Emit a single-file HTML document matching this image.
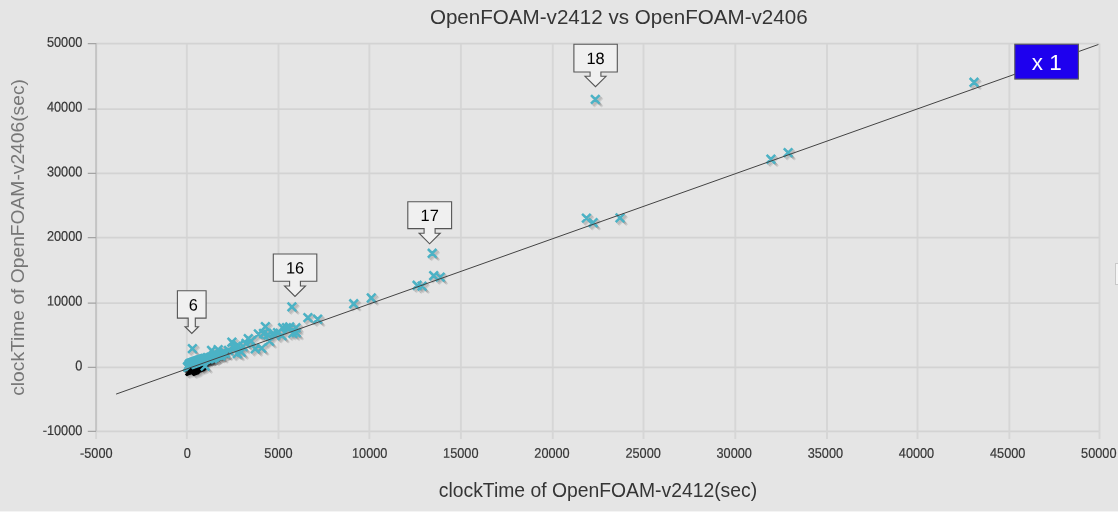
<!DOCTYPE html>
<html><head><meta charset="utf-8"><title>OpenFOAM-v2412 vs OpenFOAM-v2406</title>
<style>
html,body{margin:0;padding:0;}
body{width:1118px;height:512px;overflow:hidden;background:#e5e5e5;}
svg{display:block;position:absolute;left:0;top:0;font-family:"Liberation Sans",Arial,sans-serif;}
</style></head><body>

<svg width="1118" height="512" viewBox="0 0 1118 512">
<rect x="0" y="0" width="1118" height="512" fill="#e5e5e5"/>
<rect x="0" y="511" width="1118" height="1" fill="#f4f4f4"/>
<path d="M186.85 43.60V431.30M278.50 43.60V431.30M369.40 43.60V431.30M460.90 43.60V431.30M552.75 43.60V431.30M643.50 43.60V431.30M735.30 43.60V431.30M827.00 43.60V431.30M917.50 43.60V431.30M1009.40 43.60V431.30M1099.50 43.60V431.30" stroke="#d6d6d6" stroke-width="1.9" fill="none"/>
<path d="M96.10 43.60H1099.50M96.10 109.20H1099.50M96.10 173.45H1099.50M96.10 237.60H1099.50M96.10 303.10H1099.50M96.10 367.40H1099.50M96.10 431.30H1099.50" stroke="#d3d3d3" stroke-width="1.7" fill="none"/>
<path d="M96.10 43.00V431.90" stroke="#c4c4c4" stroke-width="2" fill="none"/>
<path d="M96.10 431.30V439M186.85 431.30V439M278.50 431.30V439M369.40 431.30V439M460.90 431.30V439M552.75 431.30V439M643.50 431.30V439M735.30 431.30V439M827.00 431.30V439M917.50 431.30V439M1009.40 431.30V439M1099.50 431.30V439" stroke="#d6d6d6" stroke-width="1.9" fill="none"/>
<path d="M87.8 43.60H96.10M87.8 109.20H96.10M87.8 173.45H96.10M87.8 237.60H96.10M87.8 303.10H96.10M87.8 367.40H96.10M87.8 431.30H96.10" stroke="#a4a4a4" stroke-width="1.3" fill="none"/>
<path d="M184.1 363.6l8.6 8.6m0 -8.6l-8.6 8.6M185.1 364.6l8.6 8.6m0 -8.6l-8.6 8.6M186.0 365.5l8.6 8.6m0 -8.6l-8.6 8.6" stroke="#000" stroke-opacity="0.13" stroke-width="2.4" fill="none"/>
<path d="M184.3 363.6l8.6 8.6m0 -8.6l-8.6 8.6M185.3 364.6l8.6 8.6m0 -8.6l-8.6 8.6M186.2 365.5l8.6 8.6m0 -8.6l-8.6 8.6" stroke="#000" stroke-opacity="0.13" stroke-width="2.4" fill="none"/>
<path d="M184.5 363.4l8.6 8.6m0 -8.6l-8.6 8.6M185.4 364.3l8.6 8.6m0 -8.6l-8.6 8.6M186.4 365.3l8.6 8.6m0 -8.6l-8.6 8.6" stroke="#000" stroke-opacity="0.13" stroke-width="2.4" fill="none"/>
<path d="M184.6 363.5l8.6 8.6m0 -8.6l-8.6 8.6M185.6 364.5l8.6 8.6m0 -8.6l-8.6 8.6M186.5 365.4l8.6 8.6m0 -8.6l-8.6 8.6" stroke="#000" stroke-opacity="0.13" stroke-width="2.4" fill="none"/>
<path d="M184.8 363.3l8.6 8.6m0 -8.6l-8.6 8.6M185.7 364.2l8.6 8.6m0 -8.6l-8.6 8.6M186.7 365.2l8.6 8.6m0 -8.6l-8.6 8.6" stroke="#000" stroke-opacity="0.13" stroke-width="2.4" fill="none"/>
<path d="M184.9 363.3l8.6 8.6m0 -8.6l-8.6 8.6M185.9 364.3l8.6 8.6m0 -8.6l-8.6 8.6M186.8 365.2l8.6 8.6m0 -8.6l-8.6 8.6" stroke="#000" stroke-opacity="0.13" stroke-width="2.4" fill="none"/>
<path d="M185.1 363.4l8.6 8.6m0 -8.6l-8.6 8.6M186.1 364.3l8.6 8.6m0 -8.6l-8.6 8.6M187.0 365.3l8.6 8.6m0 -8.6l-8.6 8.6" stroke="#000" stroke-opacity="0.13" stroke-width="2.4" fill="none"/>
<path d="M185.3 363.1l8.6 8.6m0 -8.6l-8.6 8.6M186.2 364.1l8.6 8.6m0 -8.6l-8.6 8.6M187.2 365.0l8.6 8.6m0 -8.6l-8.6 8.6" stroke="#000" stroke-opacity="0.13" stroke-width="2.4" fill="none"/>
<path d="M185.4 363.3l8.6 8.6m0 -8.6l-8.6 8.6M186.4 364.2l8.6 8.6m0 -8.6l-8.6 8.6M187.3 365.2l8.6 8.6m0 -8.6l-8.6 8.6" stroke="#000" stroke-opacity="0.13" stroke-width="2.4" fill="none"/>
<path d="M185.6 363.1l8.6 8.6m0 -8.6l-8.6 8.6M186.5 364.0l8.6 8.6m0 -8.6l-8.6 8.6M187.5 365.0l8.6 8.6m0 -8.6l-8.6 8.6" stroke="#000" stroke-opacity="0.13" stroke-width="2.4" fill="none"/>
<path d="M185.7 361.0l8.6 8.6m0 -8.6l-8.6 8.6M186.7 361.9l8.6 8.6m0 -8.6l-8.6 8.6M187.6 362.9l8.6 8.6m0 -8.6l-8.6 8.6" stroke="#000" stroke-opacity="0.13" stroke-width="2.4" fill="none"/>
<path d="M185.9 360.9l8.6 8.6m0 -8.6l-8.6 8.6M186.9 361.8l8.6 8.6m0 -8.6l-8.6 8.6M187.8 362.8l8.6 8.6m0 -8.6l-8.6 8.6" stroke="#000" stroke-opacity="0.13" stroke-width="2.4" fill="none"/>
<path d="M186.1 360.8l8.6 8.6m0 -8.6l-8.6 8.6M187.0 361.7l8.6 8.6m0 -8.6l-8.6 8.6M188.0 362.7l8.6 8.6m0 -8.6l-8.6 8.6" stroke="#000" stroke-opacity="0.13" stroke-width="2.4" fill="none"/>
<path d="M186.2 360.6l8.6 8.6m0 -8.6l-8.6 8.6M187.2 361.6l8.6 8.6m0 -8.6l-8.6 8.6M188.1 362.5l8.6 8.6m0 -8.6l-8.6 8.6" stroke="#000" stroke-opacity="0.13" stroke-width="2.4" fill="none"/>
<path d="M186.4 360.7l8.6 8.6m0 -8.6l-8.6 8.6M187.3 361.7l8.6 8.6m0 -8.6l-8.6 8.6M188.3 362.6l8.6 8.6m0 -8.6l-8.6 8.6" stroke="#000" stroke-opacity="0.13" stroke-width="2.4" fill="none"/>
<path d="M186.5 360.6l8.6 8.6m0 -8.6l-8.6 8.6M187.5 361.6l8.6 8.6m0 -8.6l-8.6 8.6M188.4 362.5l8.6 8.6m0 -8.6l-8.6 8.6" stroke="#000" stroke-opacity="0.13" stroke-width="2.4" fill="none"/>
<path d="M186.7 360.5l8.6 8.6m0 -8.6l-8.6 8.6M187.7 361.5l8.6 8.6m0 -8.6l-8.6 8.6M188.6 362.4l8.6 8.6m0 -8.6l-8.6 8.6" stroke="#000" stroke-opacity="0.13" stroke-width="2.4" fill="none"/>
<path d="M186.9 360.4l8.6 8.6m0 -8.6l-8.6 8.6M187.8 361.3l8.6 8.6m0 -8.6l-8.6 8.6M188.8 362.3l8.6 8.6m0 -8.6l-8.6 8.6" stroke="#000" stroke-opacity="0.13" stroke-width="2.4" fill="none"/>
<path d="M187.0 360.4l8.6 8.6m0 -8.6l-8.6 8.6M188.0 361.3l8.6 8.6m0 -8.6l-8.6 8.6M188.9 362.3l8.6 8.6m0 -8.6l-8.6 8.6" stroke="#000" stroke-opacity="0.13" stroke-width="2.4" fill="none"/>
<path d="M187.2 360.4l8.6 8.6m0 -8.6l-8.6 8.6M188.1 361.3l8.6 8.6m0 -8.6l-8.6 8.6M189.1 362.3l8.6 8.6m0 -8.6l-8.6 8.6" stroke="#000" stroke-opacity="0.13" stroke-width="2.4" fill="none"/>
<path d="M187.3 360.2l8.6 8.6m0 -8.6l-8.6 8.6M188.3 361.2l8.6 8.6m0 -8.6l-8.6 8.6M189.2 362.1l8.6 8.6m0 -8.6l-8.6 8.6" stroke="#000" stroke-opacity="0.13" stroke-width="2.4" fill="none"/>
<path d="M187.5 360.3l8.6 8.6m0 -8.6l-8.6 8.6M188.5 361.3l8.6 8.6m0 -8.6l-8.6 8.6M189.4 362.2l8.6 8.6m0 -8.6l-8.6 8.6" stroke="#000" stroke-opacity="0.13" stroke-width="2.4" fill="none"/>
<path d="M187.7 360.1l8.6 8.6m0 -8.6l-8.6 8.6M188.6 361.1l8.6 8.6m0 -8.6l-8.6 8.6M189.6 362.0l8.6 8.6m0 -8.6l-8.6 8.6" stroke="#000" stroke-opacity="0.13" stroke-width="2.4" fill="none"/>
<path d="M187.8 360.2l8.6 8.6m0 -8.6l-8.6 8.6M188.8 361.1l8.6 8.6m0 -8.6l-8.6 8.6M189.7 362.1l8.6 8.6m0 -8.6l-8.6 8.6" stroke="#000" stroke-opacity="0.13" stroke-width="2.4" fill="none"/>
<path d="M188.0 360.1l8.6 8.6m0 -8.6l-8.6 8.6M188.9 361.1l8.6 8.6m0 -8.6l-8.6 8.6M189.9 362.0l8.6 8.6m0 -8.6l-8.6 8.6" stroke="#000" stroke-opacity="0.13" stroke-width="2.4" fill="none"/>
<path d="M188.1 360.1l8.6 8.6m0 -8.6l-8.6 8.6M189.1 361.0l8.6 8.6m0 -8.6l-8.6 8.6M190.0 362.0l8.6 8.6m0 -8.6l-8.6 8.6" stroke="#000" stroke-opacity="0.13" stroke-width="2.4" fill="none"/>
<path d="M188.3 360.0l8.6 8.6m0 -8.6l-8.6 8.6M189.3 360.9l8.6 8.6m0 -8.6l-8.6 8.6M190.2 361.9l8.6 8.6m0 -8.6l-8.6 8.6" stroke="#000" stroke-opacity="0.13" stroke-width="2.4" fill="none"/>
<path d="M188.5 359.8l8.6 8.6m0 -8.6l-8.6 8.6M189.4 360.8l8.6 8.6m0 -8.6l-8.6 8.6M190.4 361.7l8.6 8.6m0 -8.6l-8.6 8.6" stroke="#000" stroke-opacity="0.13" stroke-width="2.4" fill="none"/>
<path d="M188.6 359.9l8.6 8.6m0 -8.6l-8.6 8.6M189.6 360.9l8.6 8.6m0 -8.6l-8.6 8.6M190.5 361.8l8.6 8.6m0 -8.6l-8.6 8.6" stroke="#000" stroke-opacity="0.13" stroke-width="2.4" fill="none"/>
<path d="M188.8 359.8l8.6 8.6m0 -8.6l-8.6 8.6M189.7 360.7l8.6 8.6m0 -8.6l-8.6 8.6M190.7 361.7l8.6 8.6m0 -8.6l-8.6 8.6" stroke="#000" stroke-opacity="0.13" stroke-width="2.4" fill="none"/>
<path d="M188.9 359.7l8.6 8.6m0 -8.6l-8.6 8.6M189.9 360.7l8.6 8.6m0 -8.6l-8.6 8.6M190.8 361.6l8.6 8.6m0 -8.6l-8.6 8.6" stroke="#000" stroke-opacity="0.13" stroke-width="2.4" fill="none"/>
<path d="M189.1 359.7l8.6 8.6m0 -8.6l-8.6 8.6M190.1 360.6l8.6 8.6m0 -8.6l-8.6 8.6M191.0 361.6l8.6 8.6m0 -8.6l-8.6 8.6" stroke="#000" stroke-opacity="0.13" stroke-width="2.4" fill="none"/>
<path d="M189.3 359.6l8.6 8.6m0 -8.6l-8.6 8.6M190.2 360.6l8.6 8.6m0 -8.6l-8.6 8.6M191.2 361.5l8.6 8.6m0 -8.6l-8.6 8.6" stroke="#000" stroke-opacity="0.13" stroke-width="2.4" fill="none"/>
<path d="M189.4 359.6l8.6 8.6m0 -8.6l-8.6 8.6M190.4 360.6l8.6 8.6m0 -8.6l-8.6 8.6M191.3 361.5l8.6 8.6m0 -8.6l-8.6 8.6" stroke="#000" stroke-opacity="0.13" stroke-width="2.4" fill="none"/>
<path d="M189.6 359.6l8.6 8.6m0 -8.6l-8.6 8.6M190.5 360.5l8.6 8.6m0 -8.6l-8.6 8.6M191.5 361.5l8.6 8.6m0 -8.6l-8.6 8.6" stroke="#000" stroke-opacity="0.13" stroke-width="2.4" fill="none"/>
<path d="M189.7 359.5l8.6 8.6m0 -8.6l-8.6 8.6M190.7 360.5l8.6 8.6m0 -8.6l-8.6 8.6M191.6 361.4l8.6 8.6m0 -8.6l-8.6 8.6" stroke="#000" stroke-opacity="0.13" stroke-width="2.4" fill="none"/>
<path d="M189.9 359.4l8.6 8.6m0 -8.6l-8.6 8.6M190.9 360.3l8.6 8.6m0 -8.6l-8.6 8.6M191.8 361.3l8.6 8.6m0 -8.6l-8.6 8.6" stroke="#000" stroke-opacity="0.13" stroke-width="2.4" fill="none"/>
<path d="M190.1 359.3l8.6 8.6m0 -8.6l-8.6 8.6M191.0 360.3l8.6 8.6m0 -8.6l-8.6 8.6M192.0 361.2l8.6 8.6m0 -8.6l-8.6 8.6" stroke="#000" stroke-opacity="0.13" stroke-width="2.4" fill="none"/>
<path d="M190.2 359.3l8.6 8.6m0 -8.6l-8.6 8.6M191.2 360.3l8.6 8.6m0 -8.6l-8.6 8.6M192.1 361.2l8.6 8.6m0 -8.6l-8.6 8.6" stroke="#000" stroke-opacity="0.13" stroke-width="2.4" fill="none"/>
<path d="M190.4 359.2l8.6 8.6m0 -8.6l-8.6 8.6M191.3 360.2l8.6 8.6m0 -8.6l-8.6 8.6M192.3 361.1l8.6 8.6m0 -8.6l-8.6 8.6" stroke="#000" stroke-opacity="0.13" stroke-width="2.4" fill="none"/>
<path d="M190.5 359.2l8.6 8.6m0 -8.6l-8.6 8.6M191.5 360.1l8.6 8.6m0 -8.6l-8.6 8.6M192.4 361.1l8.6 8.6m0 -8.6l-8.6 8.6" stroke="#000" stroke-opacity="0.13" stroke-width="2.4" fill="none"/>
<path d="M190.7 359.1l8.6 8.6m0 -8.6l-8.6 8.6M191.7 360.1l8.6 8.6m0 -8.6l-8.6 8.6M192.6 361.0l8.6 8.6m0 -8.6l-8.6 8.6" stroke="#000" stroke-opacity="0.13" stroke-width="2.4" fill="none"/>
<path d="M190.9 359.0l8.6 8.6m0 -8.6l-8.6 8.6M191.8 359.9l8.6 8.6m0 -8.6l-8.6 8.6M192.8 360.9l8.6 8.6m0 -8.6l-8.6 8.6" stroke="#000" stroke-opacity="0.13" stroke-width="2.4" fill="none"/>
<path d="M191.0 359.0l8.6 8.6m0 -8.6l-8.6 8.6M192.0 359.9l8.6 8.6m0 -8.6l-8.6 8.6M192.9 360.9l8.6 8.6m0 -8.6l-8.6 8.6" stroke="#000" stroke-opacity="0.13" stroke-width="2.4" fill="none"/>
<path d="M191.2 359.0l8.6 8.6m0 -8.6l-8.6 8.6M192.1 359.9l8.6 8.6m0 -8.6l-8.6 8.6M193.1 360.9l8.6 8.6m0 -8.6l-8.6 8.6" stroke="#000" stroke-opacity="0.13" stroke-width="2.4" fill="none"/>
<path d="M191.3 358.9l8.6 8.6m0 -8.6l-8.6 8.6M192.3 359.8l8.6 8.6m0 -8.6l-8.6 8.6M193.2 360.8l8.6 8.6m0 -8.6l-8.6 8.6" stroke="#000" stroke-opacity="0.13" stroke-width="2.4" fill="none"/>
<path d="M191.5 358.8l8.6 8.6m0 -8.6l-8.6 8.6M192.5 359.8l8.6 8.6m0 -8.6l-8.6 8.6M193.4 360.7l8.6 8.6m0 -8.6l-8.6 8.6" stroke="#000" stroke-opacity="0.13" stroke-width="2.4" fill="none"/>
<path d="M191.7 358.7l8.6 8.6m0 -8.6l-8.6 8.6M192.6 359.6l8.6 8.6m0 -8.6l-8.6 8.6M193.6 360.6l8.6 8.6m0 -8.6l-8.6 8.6" stroke="#000" stroke-opacity="0.13" stroke-width="2.4" fill="none"/>
<path d="M191.8 358.7l8.6 8.6m0 -8.6l-8.6 8.6M192.8 359.6l8.6 8.6m0 -8.6l-8.6 8.6M193.7 360.6l8.6 8.6m0 -8.6l-8.6 8.6" stroke="#000" stroke-opacity="0.13" stroke-width="2.4" fill="none"/>
<path d="M192.0 358.7l8.6 8.6m0 -8.6l-8.6 8.6M192.9 359.6l8.6 8.6m0 -8.6l-8.6 8.6M193.9 360.6l8.6 8.6m0 -8.6l-8.6 8.6" stroke="#000" stroke-opacity="0.13" stroke-width="2.4" fill="none"/>
<path d="M192.1 358.5l8.6 8.6m0 -8.6l-8.6 8.6M193.1 359.4l8.6 8.6m0 -8.6l-8.6 8.6M194.0 360.4l8.6 8.6m0 -8.6l-8.6 8.6" stroke="#000" stroke-opacity="0.13" stroke-width="2.4" fill="none"/>
<path d="M192.3 358.6l8.6 8.6m0 -8.6l-8.6 8.6M193.3 359.6l8.6 8.6m0 -8.6l-8.6 8.6M194.2 360.5l8.6 8.6m0 -8.6l-8.6 8.6" stroke="#000" stroke-opacity="0.13" stroke-width="2.4" fill="none"/>
<path d="M192.5 358.5l8.6 8.6m0 -8.6l-8.6 8.6M193.4 359.4l8.6 8.6m0 -8.6l-8.6 8.6M194.4 360.4l8.6 8.6m0 -8.6l-8.6 8.6" stroke="#000" stroke-opacity="0.13" stroke-width="2.4" fill="none"/>
<path d="M192.6 358.4l8.6 8.6m0 -8.6l-8.6 8.6M193.6 359.3l8.6 8.6m0 -8.6l-8.6 8.6M194.5 360.3l8.6 8.6m0 -8.6l-8.6 8.6" stroke="#000" stroke-opacity="0.13" stroke-width="2.4" fill="none"/>
<path d="M192.8 358.4l8.6 8.6m0 -8.6l-8.6 8.6M193.7 359.4l8.6 8.6m0 -8.6l-8.6 8.6M194.7 360.3l8.6 8.6m0 -8.6l-8.6 8.6" stroke="#000" stroke-opacity="0.13" stroke-width="2.4" fill="none"/>
<path d="M192.9 358.3l8.6 8.6m0 -8.6l-8.6 8.6M193.9 359.3l8.6 8.6m0 -8.6l-8.6 8.6M194.8 360.2l8.6 8.6m0 -8.6l-8.6 8.6" stroke="#000" stroke-opacity="0.13" stroke-width="2.4" fill="none"/>
<path d="M193.1 358.3l8.6 8.6m0 -8.6l-8.6 8.6M194.1 359.3l8.6 8.6m0 -8.6l-8.6 8.6M195.0 360.2l8.6 8.6m0 -8.6l-8.6 8.6" stroke="#000" stroke-opacity="0.13" stroke-width="2.4" fill="none"/>
<path d="M193.3 358.2l8.6 8.6m0 -8.6l-8.6 8.6M194.2 359.1l8.6 8.6m0 -8.6l-8.6 8.6M195.2 360.1l8.6 8.6m0 -8.6l-8.6 8.6" stroke="#000" stroke-opacity="0.13" stroke-width="2.4" fill="none"/>
<path d="M193.4 358.1l8.6 8.6m0 -8.6l-8.6 8.6M194.4 359.0l8.6 8.6m0 -8.6l-8.6 8.6M195.3 360.0l8.6 8.6m0 -8.6l-8.6 8.6" stroke="#000" stroke-opacity="0.13" stroke-width="2.4" fill="none"/>
<path d="M193.6 358.1l8.6 8.6m0 -8.6l-8.6 8.6M194.5 359.0l8.6 8.6m0 -8.6l-8.6 8.6M195.5 360.0l8.6 8.6m0 -8.6l-8.6 8.6" stroke="#000" stroke-opacity="0.13" stroke-width="2.4" fill="none"/>
<path d="M193.7 357.9l8.6 8.6m0 -8.6l-8.6 8.6M194.7 358.9l8.6 8.6m0 -8.6l-8.6 8.6M195.6 359.8l8.6 8.6m0 -8.6l-8.6 8.6" stroke="#000" stroke-opacity="0.13" stroke-width="2.4" fill="none"/>
<path d="M193.9 358.0l8.6 8.6m0 -8.6l-8.6 8.6M194.9 359.0l8.6 8.6m0 -8.6l-8.6 8.6M195.8 359.9l8.6 8.6m0 -8.6l-8.6 8.6" stroke="#000" stroke-opacity="0.13" stroke-width="2.4" fill="none"/>
<path d="M194.1 357.9l8.6 8.6m0 -8.6l-8.6 8.6M195.0 358.8l8.6 8.6m0 -8.6l-8.6 8.6M196.0 359.8l8.6 8.6m0 -8.6l-8.6 8.6" stroke="#000" stroke-opacity="0.13" stroke-width="2.4" fill="none"/>
<path d="M194.2 357.8l8.6 8.6m0 -8.6l-8.6 8.6M195.2 358.8l8.6 8.6m0 -8.6l-8.6 8.6M196.1 359.7l8.6 8.6m0 -8.6l-8.6 8.6" stroke="#000" stroke-opacity="0.13" stroke-width="2.4" fill="none"/>
<path d="M194.4 357.8l8.6 8.6m0 -8.6l-8.6 8.6M195.3 358.7l8.6 8.6m0 -8.6l-8.6 8.6M196.3 359.7l8.6 8.6m0 -8.6l-8.6 8.6" stroke="#000" stroke-opacity="0.13" stroke-width="2.4" fill="none"/>
<path d="M194.5 357.7l8.6 8.6m0 -8.6l-8.6 8.6M195.5 358.7l8.6 8.6m0 -8.6l-8.6 8.6M196.4 359.6l8.6 8.6m0 -8.6l-8.6 8.6" stroke="#000" stroke-opacity="0.13" stroke-width="2.4" fill="none"/>
<path d="M194.7 357.6l8.6 8.6m0 -8.6l-8.6 8.6M195.7 358.6l8.6 8.6m0 -8.6l-8.6 8.6M196.6 359.5l8.6 8.6m0 -8.6l-8.6 8.6" stroke="#000" stroke-opacity="0.13" stroke-width="2.4" fill="none"/>
<path d="M194.9 357.5l8.6 8.6m0 -8.6l-8.6 8.6M195.8 358.5l8.6 8.6m0 -8.6l-8.6 8.6M196.8 359.4l8.6 8.6m0 -8.6l-8.6 8.6" stroke="#000" stroke-opacity="0.13" stroke-width="2.4" fill="none"/>
<path d="M195.0 357.6l8.6 8.6m0 -8.6l-8.6 8.6M196.0 358.5l8.6 8.6m0 -8.6l-8.6 8.6M196.9 359.5l8.6 8.6m0 -8.6l-8.6 8.6" stroke="#000" stroke-opacity="0.13" stroke-width="2.4" fill="none"/>
<path d="M195.2 357.5l8.6 8.6m0 -8.6l-8.6 8.6M196.1 358.4l8.6 8.6m0 -8.6l-8.6 8.6M197.1 359.4l8.6 8.6m0 -8.6l-8.6 8.6" stroke="#000" stroke-opacity="0.13" stroke-width="2.4" fill="none"/>
<path d="M195.3 357.5l8.6 8.6m0 -8.6l-8.6 8.6M196.3 358.5l8.6 8.6m0 -8.6l-8.6 8.6M197.2 359.4l8.6 8.6m0 -8.6l-8.6 8.6" stroke="#000" stroke-opacity="0.13" stroke-width="2.4" fill="none"/>
<path d="M195.5 357.4l8.6 8.6m0 -8.6l-8.6 8.6M196.5 358.3l8.6 8.6m0 -8.6l-8.6 8.6M197.4 359.3l8.6 8.6m0 -8.6l-8.6 8.6" stroke="#000" stroke-opacity="0.13" stroke-width="2.4" fill="none"/>
<path d="M195.7 357.3l8.6 8.6m0 -8.6l-8.6 8.6M196.6 358.3l8.6 8.6m0 -8.6l-8.6 8.6M197.6 359.2l8.6 8.6m0 -8.6l-8.6 8.6" stroke="#000" stroke-opacity="0.13" stroke-width="2.4" fill="none"/>
<path d="M195.8 357.2l8.6 8.6m0 -8.6l-8.6 8.6M196.8 358.1l8.6 8.6m0 -8.6l-8.6 8.6M197.7 359.1l8.6 8.6m0 -8.6l-8.6 8.6" stroke="#000" stroke-opacity="0.13" stroke-width="2.4" fill="none"/>
<path d="M196.0 357.2l8.6 8.6m0 -8.6l-8.6 8.6M196.9 358.1l8.6 8.6m0 -8.6l-8.6 8.6M197.9 359.1l8.6 8.6m0 -8.6l-8.6 8.6" stroke="#000" stroke-opacity="0.13" stroke-width="2.4" fill="none"/>
<path d="M196.1 357.2l8.6 8.6m0 -8.6l-8.6 8.6M197.1 358.2l8.6 8.6m0 -8.6l-8.6 8.6M198.0 359.1l8.6 8.6m0 -8.6l-8.6 8.6" stroke="#000" stroke-opacity="0.13" stroke-width="2.4" fill="none"/>
<path d="M196.3 357.1l8.6 8.6m0 -8.6l-8.6 8.6M197.3 358.1l8.6 8.6m0 -8.6l-8.6 8.6M198.2 359.0l8.6 8.6m0 -8.6l-8.6 8.6" stroke="#000" stroke-opacity="0.13" stroke-width="2.4" fill="none"/>
<path d="M196.5 357.0l8.6 8.6m0 -8.6l-8.6 8.6M197.4 358.0l8.6 8.6m0 -8.6l-8.6 8.6M198.4 358.9l8.6 8.6m0 -8.6l-8.6 8.6" stroke="#000" stroke-opacity="0.13" stroke-width="2.4" fill="none"/>
<path d="M196.6 357.1l8.6 8.6m0 -8.6l-8.6 8.6M197.6 358.0l8.6 8.6m0 -8.6l-8.6 8.6M198.5 359.0l8.6 8.6m0 -8.6l-8.6 8.6" stroke="#000" stroke-opacity="0.13" stroke-width="2.4" fill="none"/>
<path d="M196.8 356.9l8.6 8.6m0 -8.6l-8.6 8.6M197.7 357.9l8.6 8.6m0 -8.6l-8.6 8.6M198.7 358.8l8.6 8.6m0 -8.6l-8.6 8.6" stroke="#000" stroke-opacity="0.13" stroke-width="2.4" fill="none"/>
<path d="M196.9 356.9l8.6 8.6m0 -8.6l-8.6 8.6M197.9 357.9l8.6 8.6m0 -8.6l-8.6 8.6M198.8 358.8l8.6 8.6m0 -8.6l-8.6 8.6" stroke="#000" stroke-opacity="0.13" stroke-width="2.4" fill="none"/>
<path d="M197.1 356.9l8.6 8.6m0 -8.6l-8.6 8.6M198.1 357.9l8.6 8.6m0 -8.6l-8.6 8.6M199.0 358.8l8.6 8.6m0 -8.6l-8.6 8.6" stroke="#000" stroke-opacity="0.13" stroke-width="2.4" fill="none"/>
<path d="M197.3 356.9l8.6 8.6m0 -8.6l-8.6 8.6M198.2 357.8l8.6 8.6m0 -8.6l-8.6 8.6M199.2 358.8l8.6 8.6m0 -8.6l-8.6 8.6" stroke="#000" stroke-opacity="0.13" stroke-width="2.4" fill="none"/>
<path d="M197.4 356.7l8.6 8.6m0 -8.6l-8.6 8.6M198.4 357.6l8.6 8.6m0 -8.6l-8.6 8.6M199.3 358.6l8.6 8.6m0 -8.6l-8.6 8.6" stroke="#000" stroke-opacity="0.13" stroke-width="2.4" fill="none"/>
<path d="M197.6 356.7l8.6 8.6m0 -8.6l-8.6 8.6M198.5 357.7l8.6 8.6m0 -8.6l-8.6 8.6M199.5 358.6l8.6 8.6m0 -8.6l-8.6 8.6" stroke="#000" stroke-opacity="0.13" stroke-width="2.4" fill="none"/>
<path d="M197.7 356.6l8.6 8.6m0 -8.6l-8.6 8.6M198.7 357.6l8.6 8.6m0 -8.6l-8.6 8.6M199.6 358.5l8.6 8.6m0 -8.6l-8.6 8.6" stroke="#000" stroke-opacity="0.13" stroke-width="2.4" fill="none"/>
<path d="M198.2 356.4l8.6 8.6m0 -8.6l-8.6 8.6M199.2 357.4l8.6 8.6m0 -8.6l-8.6 8.6M200.1 358.3l8.6 8.6m0 -8.6l-8.6 8.6" stroke="#000" stroke-opacity="0.13" stroke-width="2.4" fill="none"/>
<path d="M198.7 356.2l8.6 8.6m0 -8.6l-8.6 8.6M199.7 357.1l8.6 8.6m0 -8.6l-8.6 8.6M200.6 358.1l8.6 8.6m0 -8.6l-8.6 8.6" stroke="#000" stroke-opacity="0.13" stroke-width="2.4" fill="none"/>
<path d="M199.2 356.1l8.6 8.6m0 -8.6l-8.6 8.6M200.2 357.1l8.6 8.6m0 -8.6l-8.6 8.6M201.1 358.0l8.6 8.6m0 -8.6l-8.6 8.6" stroke="#000" stroke-opacity="0.13" stroke-width="2.4" fill="none"/>
<path d="M199.7 355.9l8.6 8.6m0 -8.6l-8.6 8.6M200.7 356.9l8.6 8.6m0 -8.6l-8.6 8.6M201.6 357.8l8.6 8.6m0 -8.6l-8.6 8.6" stroke="#000" stroke-opacity="0.13" stroke-width="2.4" fill="none"/>
<path d="M200.2 355.8l8.6 8.6m0 -8.6l-8.6 8.6M201.2 356.7l8.6 8.6m0 -8.6l-8.6 8.6M202.1 357.7l8.6 8.6m0 -8.6l-8.6 8.6" stroke="#000" stroke-opacity="0.13" stroke-width="2.4" fill="none"/>
<path d="M200.7 355.5l8.6 8.6m0 -8.6l-8.6 8.6M201.7 356.5l8.6 8.6m0 -8.6l-8.6 8.6M202.6 357.4l8.6 8.6m0 -8.6l-8.6 8.6" stroke="#000" stroke-opacity="0.13" stroke-width="2.4" fill="none"/>
<path d="M201.2 355.4l8.6 8.6m0 -8.6l-8.6 8.6M202.2 356.4l8.6 8.6m0 -8.6l-8.6 8.6M203.1 357.3l8.6 8.6m0 -8.6l-8.6 8.6" stroke="#000" stroke-opacity="0.13" stroke-width="2.4" fill="none"/>
<path d="M201.7 355.2l8.6 8.6m0 -8.6l-8.6 8.6M202.7 356.2l8.6 8.6m0 -8.6l-8.6 8.6M203.6 357.1l8.6 8.6m0 -8.6l-8.6 8.6" stroke="#000" stroke-opacity="0.13" stroke-width="2.4" fill="none"/>
<path d="M202.2 355.5l8.6 8.6m0 -8.6l-8.6 8.6M203.2 356.5l8.6 8.6m0 -8.6l-8.6 8.6M204.1 357.4l8.6 8.6m0 -8.6l-8.6 8.6" stroke="#000" stroke-opacity="0.13" stroke-width="2.4" fill="none"/>
<path d="M202.7 355.3l8.6 8.6m0 -8.6l-8.6 8.6M203.7 356.3l8.6 8.6m0 -8.6l-8.6 8.6M204.6 357.2l8.6 8.6m0 -8.6l-8.6 8.6" stroke="#000" stroke-opacity="0.13" stroke-width="2.4" fill="none"/>
<path d="M203.2 355.3l8.6 8.6m0 -8.6l-8.6 8.6M204.2 356.2l8.6 8.6m0 -8.6l-8.6 8.6M205.1 357.2l8.6 8.6m0 -8.6l-8.6 8.6" stroke="#000" stroke-opacity="0.13" stroke-width="2.4" fill="none"/>
<path d="M203.7 354.6l8.6 8.6m0 -8.6l-8.6 8.6M204.7 355.6l8.6 8.6m0 -8.6l-8.6 8.6M205.6 356.5l8.6 8.6m0 -8.6l-8.6 8.6" stroke="#000" stroke-opacity="0.13" stroke-width="2.4" fill="none"/>
<path d="M204.2 354.4l8.6 8.6m0 -8.6l-8.6 8.6M205.2 355.3l8.6 8.6m0 -8.6l-8.6 8.6M206.1 356.3l8.6 8.6m0 -8.6l-8.6 8.6" stroke="#000" stroke-opacity="0.13" stroke-width="2.4" fill="none"/>
<path d="M204.7 355.2l8.6 8.6m0 -8.6l-8.6 8.6M205.7 356.2l8.6 8.6m0 -8.6l-8.6 8.6M206.6 357.1l8.6 8.6m0 -8.6l-8.6 8.6" stroke="#000" stroke-opacity="0.13" stroke-width="2.4" fill="none"/>
<path d="M205.2 355.1l8.6 8.6m0 -8.6l-8.6 8.6M206.2 356.1l8.6 8.6m0 -8.6l-8.6 8.6M207.1 357.0l8.6 8.6m0 -8.6l-8.6 8.6" stroke="#000" stroke-opacity="0.13" stroke-width="2.4" fill="none"/>
<path d="M205.7 354.9l8.6 8.6m0 -8.6l-8.6 8.6M206.7 355.9l8.6 8.6m0 -8.6l-8.6 8.6M207.6 356.8l8.6 8.6m0 -8.6l-8.6 8.6" stroke="#000" stroke-opacity="0.13" stroke-width="2.4" fill="none"/>
<path d="M206.2 354.9l8.6 8.6m0 -8.6l-8.6 8.6M207.2 355.8l8.6 8.6m0 -8.6l-8.6 8.6M208.1 356.8l8.6 8.6m0 -8.6l-8.6 8.6" stroke="#000" stroke-opacity="0.13" stroke-width="2.4" fill="none"/>
<path d="M206.7 354.4l8.6 8.6m0 -8.6l-8.6 8.6M207.7 355.3l8.6 8.6m0 -8.6l-8.6 8.6M208.6 356.3l8.6 8.6m0 -8.6l-8.6 8.6" stroke="#000" stroke-opacity="0.13" stroke-width="2.4" fill="none"/>
<path d="M207.6 354.0l8.6 8.6m0 -8.6l-8.6 8.6M208.6 354.9l8.6 8.6m0 -8.6l-8.6 8.6M209.5 355.9l8.6 8.6m0 -8.6l-8.6 8.6" stroke="#000" stroke-opacity="0.13" stroke-width="2.4" fill="none"/>
<path d="M208.5 354.4l8.6 8.6m0 -8.6l-8.6 8.6M209.5 355.4l8.6 8.6m0 -8.6l-8.6 8.6M210.4 356.3l8.6 8.6m0 -8.6l-8.6 8.6" stroke="#000" stroke-opacity="0.13" stroke-width="2.4" fill="none"/>
<path d="M209.4 354.8l8.6 8.6m0 -8.6l-8.6 8.6M210.4 355.8l8.6 8.6m0 -8.6l-8.6 8.6M211.3 356.7l8.6 8.6m0 -8.6l-8.6 8.6" stroke="#000" stroke-opacity="0.13" stroke-width="2.4" fill="none"/>
<path d="M210.3 353.7l8.6 8.6m0 -8.6l-8.6 8.6M211.3 354.7l8.6 8.6m0 -8.6l-8.6 8.6M212.2 355.6l8.6 8.6m0 -8.6l-8.6 8.6" stroke="#000" stroke-opacity="0.13" stroke-width="2.4" fill="none"/>
<path d="M211.2 353.7l8.6 8.6m0 -8.6l-8.6 8.6M212.2 354.6l8.6 8.6m0 -8.6l-8.6 8.6M213.1 355.6l8.6 8.6m0 -8.6l-8.6 8.6" stroke="#000" stroke-opacity="0.13" stroke-width="2.4" fill="none"/>
<path d="M212.1 352.9l8.6 8.6m0 -8.6l-8.6 8.6M213.1 353.9l8.6 8.6m0 -8.6l-8.6 8.6M214.0 354.8l8.6 8.6m0 -8.6l-8.6 8.6" stroke="#000" stroke-opacity="0.13" stroke-width="2.4" fill="none"/>
<path d="M213.0 351.6l8.6 8.6m0 -8.6l-8.6 8.6M214.0 352.5l8.6 8.6m0 -8.6l-8.6 8.6M214.9 353.5l8.6 8.6m0 -8.6l-8.6 8.6" stroke="#000" stroke-opacity="0.13" stroke-width="2.4" fill="none"/>
<path d="M213.9 351.9l8.6 8.6m0 -8.6l-8.6 8.6M214.9 352.9l8.6 8.6m0 -8.6l-8.6 8.6M215.8 353.8l8.6 8.6m0 -8.6l-8.6 8.6" stroke="#000" stroke-opacity="0.13" stroke-width="2.4" fill="none"/>
<path d="M214.8 352.1l8.6 8.6m0 -8.6l-8.6 8.6M215.8 353.0l8.6 8.6m0 -8.6l-8.6 8.6M216.7 354.0l8.6 8.6m0 -8.6l-8.6 8.6" stroke="#000" stroke-opacity="0.13" stroke-width="2.4" fill="none"/>
<path d="M215.7 351.5l8.6 8.6m0 -8.6l-8.6 8.6M216.7 352.4l8.6 8.6m0 -8.6l-8.6 8.6M217.6 353.4l8.6 8.6m0 -8.6l-8.6 8.6" stroke="#000" stroke-opacity="0.13" stroke-width="2.4" fill="none"/>
<path d="M216.6 351.0l8.6 8.6m0 -8.6l-8.6 8.6M217.6 352.0l8.6 8.6m0 -8.6l-8.6 8.6M218.5 352.9l8.6 8.6m0 -8.6l-8.6 8.6" stroke="#000" stroke-opacity="0.13" stroke-width="2.4" fill="none"/>
<path d="M217.5 352.3l8.6 8.6m0 -8.6l-8.6 8.6M218.5 353.3l8.6 8.6m0 -8.6l-8.6 8.6M219.4 354.2l8.6 8.6m0 -8.6l-8.6 8.6" stroke="#000" stroke-opacity="0.13" stroke-width="2.4" fill="none"/>
<path d="M218.4 349.8l8.6 8.6m0 -8.6l-8.6 8.6M219.4 350.7l8.6 8.6m0 -8.6l-8.6 8.6M220.3 351.7l8.6 8.6m0 -8.6l-8.6 8.6" stroke="#000" stroke-opacity="0.13" stroke-width="2.4" fill="none"/>
<path d="M219.3 349.8l8.6 8.6m0 -8.6l-8.6 8.6M220.3 350.7l8.6 8.6m0 -8.6l-8.6 8.6M221.2 351.7l8.6 8.6m0 -8.6l-8.6 8.6" stroke="#000" stroke-opacity="0.13" stroke-width="2.4" fill="none"/>
<path d="M220.2 349.2l8.6 8.6m0 -8.6l-8.6 8.6M221.2 350.2l8.6 8.6m0 -8.6l-8.6 8.6M222.1 351.1l8.6 8.6m0 -8.6l-8.6 8.6" stroke="#000" stroke-opacity="0.13" stroke-width="2.4" fill="none"/>
<path d="M221.1 349.1l8.6 8.6m0 -8.6l-8.6 8.6M222.1 350.0l8.6 8.6m0 -8.6l-8.6 8.6M223.0 351.0l8.6 8.6m0 -8.6l-8.6 8.6" stroke="#000" stroke-opacity="0.13" stroke-width="2.4" fill="none"/>
<path d="M222.0 349.8l8.6 8.6m0 -8.6l-8.6 8.6M223.0 350.8l8.6 8.6m0 -8.6l-8.6 8.6M223.9 351.7l8.6 8.6m0 -8.6l-8.6 8.6" stroke="#000" stroke-opacity="0.13" stroke-width="2.4" fill="none"/>
<path d="M200.9 361.7l8.6 8.6m0 -8.6l-8.6 8.6M207.3 346.2l8.6 8.6m0 -8.6l-8.6 8.6M213.8 345.4l8.6 8.6m0 -8.6l-8.6 8.6M227.6 337.9l8.6 8.6m0 -8.6l-8.6 8.6M233.8 341.5l8.6 8.6m0 -8.6l-8.6 8.6M244.0 334.4l8.6 8.6m0 -8.6l-8.6 8.6M236.9 347.7l8.6 8.6m0 -8.6l-8.6 8.6M233.0 349.3l8.6 8.6m0 -8.6l-8.6 8.6M251.0 344.6l8.6 8.6m0 -8.6l-8.6 8.6M257.3 343.8l8.6 8.6m0 -8.6l-8.6 8.6M224.2 346.2l8.6 8.6m0 -8.6l-8.6 8.6M229.7 343.7l8.6 8.6m0 -8.6l-8.6 8.6M238.7 342.2l8.6 8.6m0 -8.6l-8.6 8.6M241.7 339.2l8.6 8.6m0 -8.6l-8.6 8.6M246.7 336.7l8.6 8.6m0 -8.6l-8.6 8.6M254.1 329.7l8.6 8.6m0 -8.6l-8.6 8.6M261.1 322.3l8.6 8.6m0 -8.6l-8.6 8.6M265.1 336.8l8.6 8.6m0 -8.6l-8.6 8.6M269.0 329.0l8.6 8.6m0 -8.6l-8.6 8.6M263.5 330.5l8.6 8.6m0 -8.6l-8.6 8.6M259.2 329.2l8.6 8.6m0 -8.6l-8.6 8.6M273.2 328.3l8.6 8.6m0 -8.6l-8.6 8.6M277.6 331.3l8.6 8.6m0 -8.6l-8.6 8.6M278.4 323.5l8.6 8.6m0 -8.6l-8.6 8.6M282.2 323.3l8.6 8.6m0 -8.6l-8.6 8.6M285.4 322.7l8.6 8.6m0 -8.6l-8.6 8.6M288.5 329.0l8.6 8.6m0 -8.6l-8.6 8.6M291.6 323.5l8.6 8.6m0 -8.6l-8.6 8.6M291.9 328.3l8.6 8.6m0 -8.6l-8.6 8.6M188.1 344.3l8.6 8.6m0 -8.6l-8.6 8.6M287.6 302.6l8.6 8.6m0 -8.6l-8.6 8.6M303.6 313.3l8.6 8.6m0 -8.6l-8.6 8.6M313.3 314.9l8.6 8.6m0 -8.6l-8.6 8.6M349.4 299.5l8.6 8.6m0 -8.6l-8.6 8.6M367.0 293.7l8.6 8.6m0 -8.6l-8.6 8.6M412.8 281.0l8.6 8.6m0 -8.6l-8.6 8.6M417.7 281.8l8.6 8.6m0 -8.6l-8.6 8.6M429.4 271.4l8.6 8.6m0 -8.6l-8.6 8.6M435.9 272.8l8.6 8.6m0 -8.6l-8.6 8.6M427.9 249.0l8.6 8.6m0 -8.6l-8.6 8.6M582.1 213.8l8.6 8.6m0 -8.6l-8.6 8.6M588.8 218.3l8.6 8.6m0 -8.6l-8.6 8.6M615.7 213.6l8.6 8.6m0 -8.6l-8.6 8.6M591.0 95.1l8.6 8.6m0 -8.6l-8.6 8.6M766.6 154.9l8.6 8.6m0 -8.6l-8.6 8.6M783.8 148.3l8.6 8.6m0 -8.6l-8.6 8.6M969.7 78.0l8.6 8.6m0 -8.6l-8.6 8.6" transform="translate(0.95,0.95)" stroke="#000" stroke-opacity="0.1" stroke-width="2.4" fill="none"/>
<path d="M200.9 361.7l8.6 8.6m0 -8.6l-8.6 8.6M207.3 346.2l8.6 8.6m0 -8.6l-8.6 8.6M213.8 345.4l8.6 8.6m0 -8.6l-8.6 8.6M227.6 337.9l8.6 8.6m0 -8.6l-8.6 8.6M233.8 341.5l8.6 8.6m0 -8.6l-8.6 8.6M244.0 334.4l8.6 8.6m0 -8.6l-8.6 8.6M236.9 347.7l8.6 8.6m0 -8.6l-8.6 8.6M233.0 349.3l8.6 8.6m0 -8.6l-8.6 8.6M251.0 344.6l8.6 8.6m0 -8.6l-8.6 8.6M257.3 343.8l8.6 8.6m0 -8.6l-8.6 8.6M224.2 346.2l8.6 8.6m0 -8.6l-8.6 8.6M229.7 343.7l8.6 8.6m0 -8.6l-8.6 8.6M238.7 342.2l8.6 8.6m0 -8.6l-8.6 8.6M241.7 339.2l8.6 8.6m0 -8.6l-8.6 8.6M246.7 336.7l8.6 8.6m0 -8.6l-8.6 8.6M254.1 329.7l8.6 8.6m0 -8.6l-8.6 8.6M261.1 322.3l8.6 8.6m0 -8.6l-8.6 8.6M265.1 336.8l8.6 8.6m0 -8.6l-8.6 8.6M269.0 329.0l8.6 8.6m0 -8.6l-8.6 8.6M263.5 330.5l8.6 8.6m0 -8.6l-8.6 8.6M259.2 329.2l8.6 8.6m0 -8.6l-8.6 8.6M273.2 328.3l8.6 8.6m0 -8.6l-8.6 8.6M277.6 331.3l8.6 8.6m0 -8.6l-8.6 8.6M278.4 323.5l8.6 8.6m0 -8.6l-8.6 8.6M282.2 323.3l8.6 8.6m0 -8.6l-8.6 8.6M285.4 322.7l8.6 8.6m0 -8.6l-8.6 8.6M288.5 329.0l8.6 8.6m0 -8.6l-8.6 8.6M291.6 323.5l8.6 8.6m0 -8.6l-8.6 8.6M291.9 328.3l8.6 8.6m0 -8.6l-8.6 8.6M188.1 344.3l8.6 8.6m0 -8.6l-8.6 8.6M287.6 302.6l8.6 8.6m0 -8.6l-8.6 8.6M303.6 313.3l8.6 8.6m0 -8.6l-8.6 8.6M313.3 314.9l8.6 8.6m0 -8.6l-8.6 8.6M349.4 299.5l8.6 8.6m0 -8.6l-8.6 8.6M367.0 293.7l8.6 8.6m0 -8.6l-8.6 8.6M412.8 281.0l8.6 8.6m0 -8.6l-8.6 8.6M417.7 281.8l8.6 8.6m0 -8.6l-8.6 8.6M429.4 271.4l8.6 8.6m0 -8.6l-8.6 8.6M435.9 272.8l8.6 8.6m0 -8.6l-8.6 8.6M427.9 249.0l8.6 8.6m0 -8.6l-8.6 8.6M582.1 213.8l8.6 8.6m0 -8.6l-8.6 8.6M588.8 218.3l8.6 8.6m0 -8.6l-8.6 8.6M615.7 213.6l8.6 8.6m0 -8.6l-8.6 8.6M591.0 95.1l8.6 8.6m0 -8.6l-8.6 8.6M766.6 154.9l8.6 8.6m0 -8.6l-8.6 8.6M783.8 148.3l8.6 8.6m0 -8.6l-8.6 8.6M969.7 78.0l8.6 8.6m0 -8.6l-8.6 8.6" transform="translate(1.90,1.90)" stroke="#000" stroke-opacity="0.1" stroke-width="2.4" fill="none"/>
<path d="M200.9 361.7l8.6 8.6m0 -8.6l-8.6 8.6M207.3 346.2l8.6 8.6m0 -8.6l-8.6 8.6M213.8 345.4l8.6 8.6m0 -8.6l-8.6 8.6M227.6 337.9l8.6 8.6m0 -8.6l-8.6 8.6M233.8 341.5l8.6 8.6m0 -8.6l-8.6 8.6M244.0 334.4l8.6 8.6m0 -8.6l-8.6 8.6M236.9 347.7l8.6 8.6m0 -8.6l-8.6 8.6M233.0 349.3l8.6 8.6m0 -8.6l-8.6 8.6M251.0 344.6l8.6 8.6m0 -8.6l-8.6 8.6M257.3 343.8l8.6 8.6m0 -8.6l-8.6 8.6M224.2 346.2l8.6 8.6m0 -8.6l-8.6 8.6M229.7 343.7l8.6 8.6m0 -8.6l-8.6 8.6M238.7 342.2l8.6 8.6m0 -8.6l-8.6 8.6M241.7 339.2l8.6 8.6m0 -8.6l-8.6 8.6M246.7 336.7l8.6 8.6m0 -8.6l-8.6 8.6M254.1 329.7l8.6 8.6m0 -8.6l-8.6 8.6M261.1 322.3l8.6 8.6m0 -8.6l-8.6 8.6M265.1 336.8l8.6 8.6m0 -8.6l-8.6 8.6M269.0 329.0l8.6 8.6m0 -8.6l-8.6 8.6M263.5 330.5l8.6 8.6m0 -8.6l-8.6 8.6M259.2 329.2l8.6 8.6m0 -8.6l-8.6 8.6M273.2 328.3l8.6 8.6m0 -8.6l-8.6 8.6M277.6 331.3l8.6 8.6m0 -8.6l-8.6 8.6M278.4 323.5l8.6 8.6m0 -8.6l-8.6 8.6M282.2 323.3l8.6 8.6m0 -8.6l-8.6 8.6M285.4 322.7l8.6 8.6m0 -8.6l-8.6 8.6M288.5 329.0l8.6 8.6m0 -8.6l-8.6 8.6M291.6 323.5l8.6 8.6m0 -8.6l-8.6 8.6M291.9 328.3l8.6 8.6m0 -8.6l-8.6 8.6M188.1 344.3l8.6 8.6m0 -8.6l-8.6 8.6M287.6 302.6l8.6 8.6m0 -8.6l-8.6 8.6M303.6 313.3l8.6 8.6m0 -8.6l-8.6 8.6M313.3 314.9l8.6 8.6m0 -8.6l-8.6 8.6M349.4 299.5l8.6 8.6m0 -8.6l-8.6 8.6M367.0 293.7l8.6 8.6m0 -8.6l-8.6 8.6M412.8 281.0l8.6 8.6m0 -8.6l-8.6 8.6M417.7 281.8l8.6 8.6m0 -8.6l-8.6 8.6M429.4 271.4l8.6 8.6m0 -8.6l-8.6 8.6M435.9 272.8l8.6 8.6m0 -8.6l-8.6 8.6M427.9 249.0l8.6 8.6m0 -8.6l-8.6 8.6M582.1 213.8l8.6 8.6m0 -8.6l-8.6 8.6M588.8 218.3l8.6 8.6m0 -8.6l-8.6 8.6M615.7 213.6l8.6 8.6m0 -8.6l-8.6 8.6M591.0 95.1l8.6 8.6m0 -8.6l-8.6 8.6M766.6 154.9l8.6 8.6m0 -8.6l-8.6 8.6M783.8 148.3l8.6 8.6m0 -8.6l-8.6 8.6M969.7 78.0l8.6 8.6m0 -8.6l-8.6 8.6" transform="translate(2.85,2.85)" stroke="#000" stroke-opacity="0.1" stroke-width="2.4" fill="none"/>

<path d="M185.7 366.7l8.6 8.6m0 -8.6l-8.6 8.6M186.0 366.6l8.6 8.6m0 -8.6l-8.6 8.6M186.3 366.5l8.6 8.6m0 -8.6l-8.6 8.6M186.6 366.4l8.6 8.6m0 -8.6l-8.6 8.6M186.9 366.3l8.6 8.6m0 -8.6l-8.6 8.6M187.2 366.2l8.6 8.6m0 -8.6l-8.6 8.6M187.5 366.1l8.6 8.6m0 -8.6l-8.6 8.6M187.8 366.0l8.6 8.6m0 -8.6l-8.6 8.6M188.1 365.8l8.6 8.6m0 -8.6l-8.6 8.6M188.4 365.7l8.6 8.6m0 -8.6l-8.6 8.6M188.7 365.6l8.6 8.6m0 -8.6l-8.6 8.6M189.0 365.5l8.6 8.6m0 -8.6l-8.6 8.6M189.3 365.4l8.6 8.6m0 -8.6l-8.6 8.6M189.6 365.3l8.6 8.6m0 -8.6l-8.6 8.6M189.9 365.2l8.6 8.6m0 -8.6l-8.6 8.6M190.2 365.1l8.6 8.6m0 -8.6l-8.6 8.6M190.5 365.0l8.6 8.6m0 -8.6l-8.6 8.6M190.8 364.9l8.6 8.6m0 -8.6l-8.6 8.6M191.1 364.8l8.6 8.6m0 -8.6l-8.6 8.6M192.2 363.4l8.6 8.6m0 -8.6l-8.6 8.6M192.7 363.2l8.6 8.6m0 -8.6l-8.6 8.6M193.2 363.0l8.6 8.6m0 -8.6l-8.6 8.6M193.7 362.9l8.6 8.6m0 -8.6l-8.6 8.6M194.2 362.7l8.6 8.6m0 -8.6l-8.6 8.6M194.7 362.5l8.6 8.6m0 -8.6l-8.6 8.6M195.2 362.3l8.6 8.6m0 -8.6l-8.6 8.6M195.7 362.1l8.6 8.6m0 -8.6l-8.6 8.6M196.2 362.0l8.6 8.6m0 -8.6l-8.6 8.6M196.7 361.8l8.6 8.6m0 -8.6l-8.6 8.6M197.2 361.6l8.6 8.6m0 -8.6l-8.6 8.6" transform="translate(0.95,0.95)" stroke="#000" stroke-opacity="0.1" stroke-width="2.4" fill="none"/>
<path d="M185.7 366.7l8.6 8.6m0 -8.6l-8.6 8.6M186.0 366.6l8.6 8.6m0 -8.6l-8.6 8.6M186.3 366.5l8.6 8.6m0 -8.6l-8.6 8.6M186.6 366.4l8.6 8.6m0 -8.6l-8.6 8.6M186.9 366.3l8.6 8.6m0 -8.6l-8.6 8.6M187.2 366.2l8.6 8.6m0 -8.6l-8.6 8.6M187.5 366.1l8.6 8.6m0 -8.6l-8.6 8.6M187.8 366.0l8.6 8.6m0 -8.6l-8.6 8.6M188.1 365.8l8.6 8.6m0 -8.6l-8.6 8.6M188.4 365.7l8.6 8.6m0 -8.6l-8.6 8.6M188.7 365.6l8.6 8.6m0 -8.6l-8.6 8.6M189.0 365.5l8.6 8.6m0 -8.6l-8.6 8.6M189.3 365.4l8.6 8.6m0 -8.6l-8.6 8.6M189.6 365.3l8.6 8.6m0 -8.6l-8.6 8.6M189.9 365.2l8.6 8.6m0 -8.6l-8.6 8.6M190.2 365.1l8.6 8.6m0 -8.6l-8.6 8.6M190.5 365.0l8.6 8.6m0 -8.6l-8.6 8.6M190.8 364.9l8.6 8.6m0 -8.6l-8.6 8.6M191.1 364.8l8.6 8.6m0 -8.6l-8.6 8.6M192.2 363.4l8.6 8.6m0 -8.6l-8.6 8.6M192.7 363.2l8.6 8.6m0 -8.6l-8.6 8.6M193.2 363.0l8.6 8.6m0 -8.6l-8.6 8.6M193.7 362.9l8.6 8.6m0 -8.6l-8.6 8.6M194.2 362.7l8.6 8.6m0 -8.6l-8.6 8.6M194.7 362.5l8.6 8.6m0 -8.6l-8.6 8.6M195.2 362.3l8.6 8.6m0 -8.6l-8.6 8.6M195.7 362.1l8.6 8.6m0 -8.6l-8.6 8.6M196.2 362.0l8.6 8.6m0 -8.6l-8.6 8.6M196.7 361.8l8.6 8.6m0 -8.6l-8.6 8.6M197.2 361.6l8.6 8.6m0 -8.6l-8.6 8.6" transform="translate(1.90,1.90)" stroke="#000" stroke-opacity="0.1" stroke-width="2.4" fill="none"/>
<path d="M185.7 366.7l8.6 8.6m0 -8.6l-8.6 8.6M186.0 366.6l8.6 8.6m0 -8.6l-8.6 8.6M186.3 366.5l8.6 8.6m0 -8.6l-8.6 8.6M186.6 366.4l8.6 8.6m0 -8.6l-8.6 8.6M186.9 366.3l8.6 8.6m0 -8.6l-8.6 8.6M187.2 366.2l8.6 8.6m0 -8.6l-8.6 8.6M187.5 366.1l8.6 8.6m0 -8.6l-8.6 8.6M187.8 366.0l8.6 8.6m0 -8.6l-8.6 8.6M188.1 365.8l8.6 8.6m0 -8.6l-8.6 8.6M188.4 365.7l8.6 8.6m0 -8.6l-8.6 8.6M188.7 365.6l8.6 8.6m0 -8.6l-8.6 8.6M189.0 365.5l8.6 8.6m0 -8.6l-8.6 8.6M189.3 365.4l8.6 8.6m0 -8.6l-8.6 8.6M189.6 365.3l8.6 8.6m0 -8.6l-8.6 8.6M189.9 365.2l8.6 8.6m0 -8.6l-8.6 8.6M190.2 365.1l8.6 8.6m0 -8.6l-8.6 8.6M190.5 365.0l8.6 8.6m0 -8.6l-8.6 8.6M190.8 364.9l8.6 8.6m0 -8.6l-8.6 8.6M191.1 364.8l8.6 8.6m0 -8.6l-8.6 8.6M192.2 363.4l8.6 8.6m0 -8.6l-8.6 8.6M192.7 363.2l8.6 8.6m0 -8.6l-8.6 8.6M193.2 363.0l8.6 8.6m0 -8.6l-8.6 8.6M193.7 362.9l8.6 8.6m0 -8.6l-8.6 8.6M194.2 362.7l8.6 8.6m0 -8.6l-8.6 8.6M194.7 362.5l8.6 8.6m0 -8.6l-8.6 8.6M195.2 362.3l8.6 8.6m0 -8.6l-8.6 8.6M195.7 362.1l8.6 8.6m0 -8.6l-8.6 8.6M196.2 362.0l8.6 8.6m0 -8.6l-8.6 8.6M196.7 361.8l8.6 8.6m0 -8.6l-8.6 8.6M197.2 361.6l8.6 8.6m0 -8.6l-8.6 8.6" transform="translate(2.85,2.85)" stroke="#000" stroke-opacity="0.1" stroke-width="2.4" fill="none"/>

<path d="M185.7 366.7l8.6 8.6m0 -8.6l-8.6 8.6M186.0 366.6l8.6 8.6m0 -8.6l-8.6 8.6M186.3 366.5l8.6 8.6m0 -8.6l-8.6 8.6M186.6 366.4l8.6 8.6m0 -8.6l-8.6 8.6M186.9 366.3l8.6 8.6m0 -8.6l-8.6 8.6M187.2 366.2l8.6 8.6m0 -8.6l-8.6 8.6M187.5 366.1l8.6 8.6m0 -8.6l-8.6 8.6M187.8 366.0l8.6 8.6m0 -8.6l-8.6 8.6M188.1 365.8l8.6 8.6m0 -8.6l-8.6 8.6M188.4 365.7l8.6 8.6m0 -8.6l-8.6 8.6M188.7 365.6l8.6 8.6m0 -8.6l-8.6 8.6M189.0 365.5l8.6 8.6m0 -8.6l-8.6 8.6M189.3 365.4l8.6 8.6m0 -8.6l-8.6 8.6M189.6 365.3l8.6 8.6m0 -8.6l-8.6 8.6M189.9 365.2l8.6 8.6m0 -8.6l-8.6 8.6M190.2 365.1l8.6 8.6m0 -8.6l-8.6 8.6M190.5 365.0l8.6 8.6m0 -8.6l-8.6 8.6M190.8 364.9l8.6 8.6m0 -8.6l-8.6 8.6M191.1 364.8l8.6 8.6m0 -8.6l-8.6 8.6M192.2 363.4l8.6 8.6m0 -8.6l-8.6 8.6M192.7 363.2l8.6 8.6m0 -8.6l-8.6 8.6M193.2 363.0l8.6 8.6m0 -8.6l-8.6 8.6M193.7 362.9l8.6 8.6m0 -8.6l-8.6 8.6M194.2 362.7l8.6 8.6m0 -8.6l-8.6 8.6M194.7 362.5l8.6 8.6m0 -8.6l-8.6 8.6M195.2 362.3l8.6 8.6m0 -8.6l-8.6 8.6M195.7 362.1l8.6 8.6m0 -8.6l-8.6 8.6M196.2 362.0l8.6 8.6m0 -8.6l-8.6 8.6M196.7 361.8l8.6 8.6m0 -8.6l-8.6 8.6M197.2 361.6l8.6 8.6m0 -8.6l-8.6 8.6" stroke="#000000" stroke-width="2.5" fill="none"/>
<path d="M183.2 362.7l5.3 5.3M191.8 362.7l-8.6 8.6M183.4 362.7l5.3 5.3M192.0 362.7l-8.6 8.6M183.5 362.4l5.3 5.3M192.1 362.4l-8.6 8.6M183.7 362.6l5.3 5.3M192.3 362.6l-8.6 8.6M183.8 362.3l5.3 5.3M192.4 362.3l-8.6 8.6M184.0 362.4l5.3 5.3M192.6 362.4l-8.6 8.6M184.2 362.4l5.3 5.3M192.8 362.4l-8.6 8.6M184.3 362.2l5.3 5.3M192.9 362.2l-8.6 8.6M184.5 362.3l5.3 5.3M193.1 362.3l-8.6 8.6M184.6 362.1l5.3 5.3M193.2 362.1l-8.6 8.6M183.3 362.3l5.3 5.3M191.9 362.3l-8.6 8.6M183.5 362.5l5.3 5.3M192.1 362.5l-8.6 8.6M183.7 361.9l5.3 5.3M192.3 361.9l-8.6 8.6M183.9 362.4l5.3 5.3M192.5 362.4l-8.6 8.6M184.1 362.3l5.3 5.3M192.7 362.3l-8.6 8.6M184.3 362.1l5.3 5.3M192.9 362.1l-8.6 8.6M184.5 362.1l5.3 5.3M193.1 362.1l-8.6 8.6M184.7 361.8l5.3 5.3M193.3 361.8l-8.6 8.6M184.9 362.0l5.3 5.3M193.5 362.0l-8.6 8.6M185.1 362.0l5.3 5.3M193.7 362.0l-8.6 8.6M185.3 361.8l5.3 5.3M193.9 361.8l-8.6 8.6M185.5 361.8l5.3 5.3M194.1 361.8l-8.6 8.6M185.7 361.4l5.3 5.3M194.3 361.4l-8.6 8.6M185.9 361.7l5.3 5.3M194.5 361.7l-8.6 8.6M186.1 360.8l5.3 5.3M194.7 360.8l-8.6 8.6M186.3 361.0l5.3 5.3M194.9 361.0l-8.6 8.6M186.5 361.4l5.3 5.3M195.1 361.4l-8.6 8.6M186.7 361.2l5.3 5.3M195.3 361.2l-8.6 8.6M186.9 361.0l5.3 5.3M195.5 361.0l-8.6 8.6M187.1 360.9l5.3 5.3M195.7 360.9l-8.6 8.6" stroke="#4bb2c5" stroke-width="2.5" fill="none"/>
<path d="M184.8 360.0l8.6 8.6m0 -8.6l-8.6 8.6M185.0 359.9l8.6 8.6m0 -8.6l-8.6 8.6M185.1 359.8l8.6 8.6m0 -8.6l-8.6 8.6M185.3 359.7l8.6 8.6m0 -8.6l-8.6 8.6M185.4 359.8l8.6 8.6m0 -8.6l-8.6 8.6M185.6 359.7l8.6 8.6m0 -8.6l-8.6 8.6M185.8 359.6l8.6 8.6m0 -8.6l-8.6 8.6M185.9 359.4l8.6 8.6m0 -8.6l-8.6 8.6M186.1 359.4l8.6 8.6m0 -8.6l-8.6 8.6M186.2 359.4l8.6 8.6m0 -8.6l-8.6 8.6M186.4 359.3l8.6 8.6m0 -8.6l-8.6 8.6M186.6 359.4l8.6 8.6m0 -8.6l-8.6 8.6M186.7 359.2l8.6 8.6m0 -8.6l-8.6 8.6M186.9 359.2l8.6 8.6m0 -8.6l-8.6 8.6M187.0 359.2l8.6 8.6m0 -8.6l-8.6 8.6M187.2 359.1l8.6 8.6m0 -8.6l-8.6 8.6M187.4 359.0l8.6 8.6m0 -8.6l-8.6 8.6M187.5 358.9l8.6 8.6m0 -8.6l-8.6 8.6M187.7 359.0l8.6 8.6m0 -8.6l-8.6 8.6M187.8 358.8l8.6 8.6m0 -8.6l-8.6 8.6M188.0 358.8l8.6 8.6m0 -8.6l-8.6 8.6M188.2 358.7l8.6 8.6m0 -8.6l-8.6 8.6M188.3 358.7l8.6 8.6m0 -8.6l-8.6 8.6M188.5 358.7l8.6 8.6m0 -8.6l-8.6 8.6M188.6 358.6l8.6 8.6m0 -8.6l-8.6 8.6M188.8 358.6l8.6 8.6m0 -8.6l-8.6 8.6M189.0 358.4l8.6 8.6m0 -8.6l-8.6 8.6M189.1 358.4l8.6 8.6m0 -8.6l-8.6 8.6M189.3 358.4l8.6 8.6m0 -8.6l-8.6 8.6M189.4 358.3l8.6 8.6m0 -8.6l-8.6 8.6M189.6 358.2l8.6 8.6m0 -8.6l-8.6 8.6M189.8 358.2l8.6 8.6m0 -8.6l-8.6 8.6M189.9 358.0l8.6 8.6m0 -8.6l-8.6 8.6M190.1 358.0l8.6 8.6m0 -8.6l-8.6 8.6M190.2 358.0l8.6 8.6m0 -8.6l-8.6 8.6M190.4 357.9l8.6 8.6m0 -8.6l-8.6 8.6M190.6 357.9l8.6 8.6m0 -8.6l-8.6 8.6M190.7 357.7l8.6 8.6m0 -8.6l-8.6 8.6M190.9 357.7l8.6 8.6m0 -8.6l-8.6 8.6M191.0 357.7l8.6 8.6m0 -8.6l-8.6 8.6M191.2 357.5l8.6 8.6m0 -8.6l-8.6 8.6M191.4 357.7l8.6 8.6m0 -8.6l-8.6 8.6M191.5 357.5l8.6 8.6m0 -8.6l-8.6 8.6M191.7 357.4l8.6 8.6m0 -8.6l-8.6 8.6M191.8 357.5l8.6 8.6m0 -8.6l-8.6 8.6M192.0 357.4l8.6 8.6m0 -8.6l-8.6 8.6M192.2 357.4l8.6 8.6m0 -8.6l-8.6 8.6M192.3 357.2l8.6 8.6m0 -8.6l-8.6 8.6M192.5 357.1l8.6 8.6m0 -8.6l-8.6 8.6M192.6 357.1l8.6 8.6m0 -8.6l-8.6 8.6M192.8 357.0l8.6 8.6m0 -8.6l-8.6 8.6M193.0 357.1l8.6 8.6m0 -8.6l-8.6 8.6M193.1 356.9l8.6 8.6m0 -8.6l-8.6 8.6M193.3 356.9l8.6 8.6m0 -8.6l-8.6 8.6M193.4 356.8l8.6 8.6m0 -8.6l-8.6 8.6M193.6 356.8l8.6 8.6m0 -8.6l-8.6 8.6M193.8 356.7l8.6 8.6m0 -8.6l-8.6 8.6M193.9 356.6l8.6 8.6m0 -8.6l-8.6 8.6M194.1 356.6l8.6 8.6m0 -8.6l-8.6 8.6M194.2 356.5l8.6 8.6m0 -8.6l-8.6 8.6M194.4 356.6l8.6 8.6m0 -8.6l-8.6 8.6M194.6 356.4l8.6 8.6m0 -8.6l-8.6 8.6M194.7 356.4l8.6 8.6m0 -8.6l-8.6 8.6M194.9 356.2l8.6 8.6m0 -8.6l-8.6 8.6M195.0 356.2l8.6 8.6m0 -8.6l-8.6 8.6M195.2 356.3l8.6 8.6m0 -8.6l-8.6 8.6M195.4 356.2l8.6 8.6m0 -8.6l-8.6 8.6M195.5 356.1l8.6 8.6m0 -8.6l-8.6 8.6M195.7 356.1l8.6 8.6m0 -8.6l-8.6 8.6M195.8 356.0l8.6 8.6m0 -8.6l-8.6 8.6M196.0 356.0l8.6 8.6m0 -8.6l-8.6 8.6M196.2 356.0l8.6 8.6m0 -8.6l-8.6 8.6M196.3 355.9l8.6 8.6m0 -8.6l-8.6 8.6M196.5 355.7l8.6 8.6m0 -8.6l-8.6 8.6M196.6 355.8l8.6 8.6m0 -8.6l-8.6 8.6M196.8 355.7l8.6 8.6m0 -8.6l-8.6 8.6M197.3 355.5l8.6 8.6m0 -8.6l-8.6 8.6M197.8 355.2l8.6 8.6m0 -8.6l-8.6 8.6M198.3 355.2l8.6 8.6m0 -8.6l-8.6 8.6M198.8 355.0l8.6 8.6m0 -8.6l-8.6 8.6M199.3 354.8l8.6 8.6m0 -8.6l-8.6 8.6M199.8 354.6l8.6 8.6m0 -8.6l-8.6 8.6M200.3 354.5l8.6 8.6m0 -8.6l-8.6 8.6M200.8 354.3l8.6 8.6m0 -8.6l-8.6 8.6M201.3 354.6l8.6 8.6m0 -8.6l-8.6 8.6M201.8 354.4l8.6 8.6m0 -8.6l-8.6 8.6M202.3 354.3l8.6 8.6m0 -8.6l-8.6 8.6M202.8 353.7l8.6 8.6m0 -8.6l-8.6 8.6M203.3 353.4l8.6 8.6m0 -8.6l-8.6 8.6M203.8 354.3l8.6 8.6m0 -8.6l-8.6 8.6M204.3 354.2l8.6 8.6m0 -8.6l-8.6 8.6M204.8 354.0l8.6 8.6m0 -8.6l-8.6 8.6M205.3 353.9l8.6 8.6m0 -8.6l-8.6 8.6M205.8 353.4l8.6 8.6m0 -8.6l-8.6 8.6M206.7 353.0l8.6 8.6m0 -8.6l-8.6 8.6M207.6 353.5l8.6 8.6m0 -8.6l-8.6 8.6M208.5 353.9l8.6 8.6m0 -8.6l-8.6 8.6M209.4 352.8l8.6 8.6m0 -8.6l-8.6 8.6M210.3 352.7l8.6 8.6m0 -8.6l-8.6 8.6M211.2 352.0l8.6 8.6m0 -8.6l-8.6 8.6M212.1 350.6l8.6 8.6m0 -8.6l-8.6 8.6M213.0 351.0l8.6 8.6m0 -8.6l-8.6 8.6M213.9 351.1l8.6 8.6m0 -8.6l-8.6 8.6M214.8 350.5l8.6 8.6m0 -8.6l-8.6 8.6M215.7 350.1l8.6 8.6m0 -8.6l-8.6 8.6M216.6 351.4l8.6 8.6m0 -8.6l-8.6 8.6M217.5 348.8l8.6 8.6m0 -8.6l-8.6 8.6M218.4 348.8l8.6 8.6m0 -8.6l-8.6 8.6M219.3 348.3l8.6 8.6m0 -8.6l-8.6 8.6M220.2 348.1l8.6 8.6m0 -8.6l-8.6 8.6M221.1 348.9l8.6 8.6m0 -8.6l-8.6 8.6M200.9 361.7l8.6 8.6m0 -8.6l-8.6 8.6M207.3 346.2l8.6 8.6m0 -8.6l-8.6 8.6M213.8 345.4l8.6 8.6m0 -8.6l-8.6 8.6M227.6 337.9l8.6 8.6m0 -8.6l-8.6 8.6M233.8 341.5l8.6 8.6m0 -8.6l-8.6 8.6M244.0 334.4l8.6 8.6m0 -8.6l-8.6 8.6M236.9 347.7l8.6 8.6m0 -8.6l-8.6 8.6M233.0 349.3l8.6 8.6m0 -8.6l-8.6 8.6M251.0 344.6l8.6 8.6m0 -8.6l-8.6 8.6M257.3 343.8l8.6 8.6m0 -8.6l-8.6 8.6M224.2 346.2l8.6 8.6m0 -8.6l-8.6 8.6M229.7 343.7l8.6 8.6m0 -8.6l-8.6 8.6M238.7 342.2l8.6 8.6m0 -8.6l-8.6 8.6M241.7 339.2l8.6 8.6m0 -8.6l-8.6 8.6M246.7 336.7l8.6 8.6m0 -8.6l-8.6 8.6M254.1 329.7l8.6 8.6m0 -8.6l-8.6 8.6M261.1 322.3l8.6 8.6m0 -8.6l-8.6 8.6M265.1 336.8l8.6 8.6m0 -8.6l-8.6 8.6M269.0 329.0l8.6 8.6m0 -8.6l-8.6 8.6M263.5 330.5l8.6 8.6m0 -8.6l-8.6 8.6M259.2 329.2l8.6 8.6m0 -8.6l-8.6 8.6M273.2 328.3l8.6 8.6m0 -8.6l-8.6 8.6M277.6 331.3l8.6 8.6m0 -8.6l-8.6 8.6M278.4 323.5l8.6 8.6m0 -8.6l-8.6 8.6M282.2 323.3l8.6 8.6m0 -8.6l-8.6 8.6M285.4 322.7l8.6 8.6m0 -8.6l-8.6 8.6M288.5 329.0l8.6 8.6m0 -8.6l-8.6 8.6M291.6 323.5l8.6 8.6m0 -8.6l-8.6 8.6M291.9 328.3l8.6 8.6m0 -8.6l-8.6 8.6M188.1 344.3l8.6 8.6m0 -8.6l-8.6 8.6M287.6 302.6l8.6 8.6m0 -8.6l-8.6 8.6M303.6 313.3l8.6 8.6m0 -8.6l-8.6 8.6M313.3 314.9l8.6 8.6m0 -8.6l-8.6 8.6M349.4 299.5l8.6 8.6m0 -8.6l-8.6 8.6M367.0 293.7l8.6 8.6m0 -8.6l-8.6 8.6M412.8 281.0l8.6 8.6m0 -8.6l-8.6 8.6M417.7 281.8l8.6 8.6m0 -8.6l-8.6 8.6M429.4 271.4l8.6 8.6m0 -8.6l-8.6 8.6M435.9 272.8l8.6 8.6m0 -8.6l-8.6 8.6M427.9 249.0l8.6 8.6m0 -8.6l-8.6 8.6M582.1 213.8l8.6 8.6m0 -8.6l-8.6 8.6M588.8 218.3l8.6 8.6m0 -8.6l-8.6 8.6M615.7 213.6l8.6 8.6m0 -8.6l-8.6 8.6M591.0 95.1l8.6 8.6m0 -8.6l-8.6 8.6M766.6 154.9l8.6 8.6m0 -8.6l-8.6 8.6M783.8 148.3l8.6 8.6m0 -8.6l-8.6 8.6M969.7 78.0l8.6 8.6m0 -8.6l-8.6 8.6" stroke="#4bb2c5" stroke-width="2.5" fill="none"/>
<path d="M116.1 394.1L1098.4 44.5" stroke="#434343" stroke-width="1.0" fill="none"/>
<path d="M177.4 290.8H206.1V318.1H195.3V326.7H198.5L191.8 333.5L185.0 326.7H188.2V318.1H177.4Z" fill="#f0f0f0" stroke="#555" stroke-width="1.1"/>
<text transform="translate(193.2,310.5) rotate(0.03)" font-size="16.4" fill="#000" text-anchor="middle">6</text>
<path d="M273.3 254.0H316.8V281.3H300.4V286.0H305.5L295.0 296.5L284.5 286.0H289.6V281.3H273.3Z" fill="#f0f0f0" stroke="#555" stroke-width="1.1"/>
<text transform="translate(295.1,273.6) rotate(0.03)" font-size="16.4" fill="#000" text-anchor="middle">16</text>
<path d="M407.8 201.7H451.6V228.6H435.1V233.2H440.2L429.6 243.8L419.1 233.2H424.1V228.6H407.8Z" fill="#f0f0f0" stroke="#555" stroke-width="1.1"/>
<text transform="translate(429.7,221.1) rotate(0.03)" font-size="16.4" fill="#000" text-anchor="middle">17</text>
<path d="M573.9 44.2H617.3V72.0H600.9V76.3H606.0L595.5 86.7L585.0 76.3H590.1V72.0H573.9Z" fill="#f0f0f0" stroke="#555" stroke-width="1.1"/>
<text transform="translate(595.6,64.1) rotate(0.03)" font-size="16.4" fill="#000" text-anchor="middle">18</text>
<rect x="1014.8" y="44.2" width="63.6" height="34.9" fill="#1e00ee" stroke="#5a5a5a" stroke-width="1.1"/>
<text x="1046.7" y="70.2" font-size="22.4" fill="#fff" text-anchor="middle">x 1</text>
<rect x="1115.5" y="263.5" width="10" height="21" fill="#f6f6f6" stroke="#c8c8c8" stroke-width="1"/>
<text x="618.75" y="24.3" font-size="20.6" fill="#353535" text-anchor="middle">OpenFOAM-v2412 vs OpenFOAM-v2406</text>
<text transform="translate(96.3,457.7) rotate(0.03) scale(0.915,1)" font-size="13.9" fill="#353535" stroke="#353535" stroke-width="0.2" text-anchor="middle">-5000</text>
<text transform="translate(187.4,457.7) rotate(0.03) scale(0.915,1)" font-size="13.9" fill="#353535" stroke="#353535" stroke-width="0.2" text-anchor="middle">0</text>
<text transform="translate(278.5,457.7) rotate(0.03) scale(0.915,1)" font-size="13.9" fill="#353535" stroke="#353535" stroke-width="0.2" text-anchor="middle">5000</text>
<text transform="translate(369.7,457.7) rotate(0.03) scale(0.915,1)" font-size="13.9" fill="#353535" stroke="#353535" stroke-width="0.2" text-anchor="middle">10000</text>
<text transform="translate(460.8,457.7) rotate(0.03) scale(0.915,1)" font-size="13.9" fill="#353535" stroke="#353535" stroke-width="0.2" text-anchor="middle">15000</text>
<text transform="translate(552.0,457.7) rotate(0.03) scale(0.915,1)" font-size="13.9" fill="#353535" stroke="#353535" stroke-width="0.2" text-anchor="middle">20000</text>
<text transform="translate(643.1,457.7) rotate(0.03) scale(0.915,1)" font-size="13.9" fill="#353535" stroke="#353535" stroke-width="0.2" text-anchor="middle">25000</text>
<text transform="translate(734.2,457.7) rotate(0.03) scale(0.915,1)" font-size="13.9" fill="#353535" stroke="#353535" stroke-width="0.2" text-anchor="middle">30000</text>
<text transform="translate(825.4,457.7) rotate(0.03) scale(0.915,1)" font-size="13.9" fill="#353535" stroke="#353535" stroke-width="0.2" text-anchor="middle">35000</text>
<text transform="translate(916.5,457.7) rotate(0.03) scale(0.915,1)" font-size="13.9" fill="#353535" stroke="#353535" stroke-width="0.2" text-anchor="middle">40000</text>
<text transform="translate(1007.7,457.7) rotate(0.03) scale(0.915,1)" font-size="13.9" fill="#353535" stroke="#353535" stroke-width="0.2" text-anchor="middle">45000</text>
<text transform="translate(1098.8,457.7) rotate(0.03) scale(0.915,1)" font-size="13.9" fill="#353535" stroke="#353535" stroke-width="0.2" text-anchor="middle">50000</text>
<text transform="translate(82.3,46.8) rotate(0.03) scale(0.915,1)" font-size="13.9" fill="#353535" stroke="#353535" stroke-width="0.2" text-anchor="end">50000</text>
<text transform="translate(82.3,111.5) rotate(0.03) scale(0.915,1)" font-size="13.9" fill="#353535" stroke="#353535" stroke-width="0.2" text-anchor="end">40000</text>
<text transform="translate(82.3,176.2) rotate(0.03) scale(0.915,1)" font-size="13.9" fill="#353535" stroke="#353535" stroke-width="0.2" text-anchor="end">30000</text>
<text transform="translate(82.3,240.8) rotate(0.03) scale(0.915,1)" font-size="13.9" fill="#353535" stroke="#353535" stroke-width="0.2" text-anchor="end">20000</text>
<text transform="translate(82.3,305.5) rotate(0.03) scale(0.915,1)" font-size="13.9" fill="#353535" stroke="#353535" stroke-width="0.2" text-anchor="end">10000</text>
<text transform="translate(82.3,370.2) rotate(0.03) scale(0.915,1)" font-size="13.9" fill="#353535" stroke="#353535" stroke-width="0.2" text-anchor="end">0</text>
<text transform="translate(82.3,434.9) rotate(0.03) scale(0.915,1)" font-size="13.9" fill="#353535" stroke="#353535" stroke-width="0.2" text-anchor="end">-10000</text>
<text x="438.8" y="497.1" font-size="19.33" fill="#353535">clockTime of OpenFOAM-v2412(sec)</text>
<text transform="translate(24.0,395.8) rotate(-90)" font-size="19.24" fill="#767676">clockTime of OpenFOAM-v2406(sec)</text>
</svg>
</body></html>
